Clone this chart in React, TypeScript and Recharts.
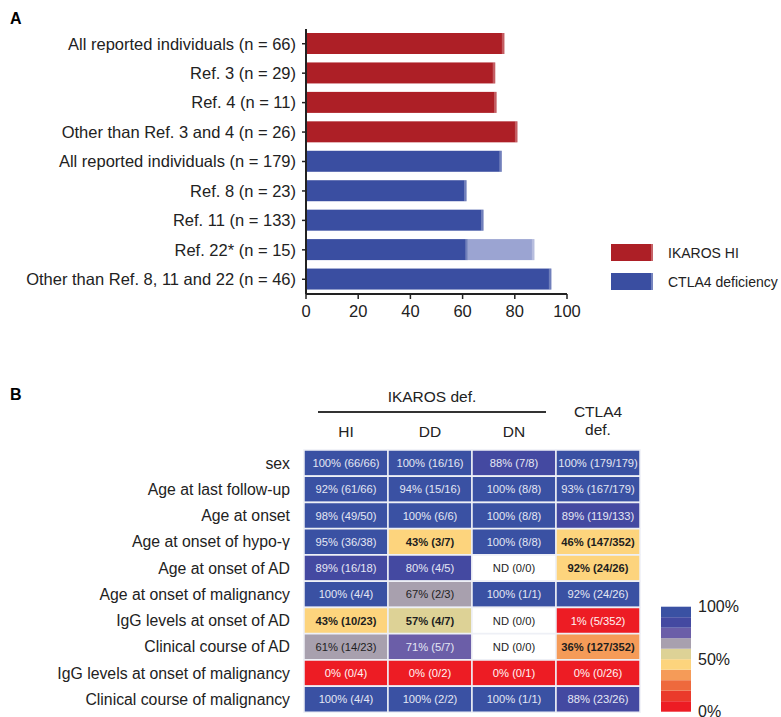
import React from 'react'
import { BarChart, Bar, XAxis, YAxis, Cell } from 'recharts'

const FONT = '"Liberation Sans", Arial, Helvetica, sans-serif'

// ---- panel A: share of individuals per cohort (%)
const cohortLabels = [
  'All reported individuals (n = 66)',
  'Ref. 3 (n = 29)',
  'Ref. 4 (n = 11)',
  'Other than Ref. 3 and 4 (n = 26)',
  'All reported individuals (n = 179)',
  'Ref. 8 (n = 23)',
  'Ref. 11 (n = 133)',
  'Ref. 22* (n = 15)',
  'Other than Ref. 8, 11 and 22 (n = 46)',
]
const cohortGroup = [
  'IKAROS HI', 'IKAROS HI', 'IKAROS HI', 'IKAROS HI',
  'CTLA4 deficiency', 'CTLA4 deficiency', 'CTLA4 deficiency', 'CTLA4 deficiency', 'CTLA4 deficiency',
]
const cohortPct = [76, 72.5, 73, 81, 75, 61.5, 68, 62, 94]
const cohortExtraPct = [0, 0, 0, 0, 0, 0, 0, 25.5, 0]
const xTicksA = [0, 20, 40, 60, 80, 100]

// ---- panel B: heatmap
const featureLabels = [
  'sex',
  'Age at last follow-up',
  'Age at onset',
  'Age at onset of hypo-γ',
  'Age at onset of AD',
  'Age at onset of malignancy',
  'IgG levels at onset of AD',
  'Clinical course of AD',
  'IgG levels at onset of malignancy',
  'Clinical course of malignancy',
]
const heatGroups = ['HI', 'DD', 'DN', 'CTLA4 def.']
const hiPct = [100, 92, 98, 95, 89, 100, 43, 61, 0, 100]
const hiFrac = ['66/66', '61/66', '49/50', '36/38', '16/18', '4/4', '10/23', '14/23', '0/4', '4/4']
const ddPct = [100, 94, 100, 43, 80, 67, 57, 71, 0, 100]
const ddFrac = ['16/16', '15/16', '6/6', '3/7', '4/5', '2/3', '4/7', '5/7', '0/2', '2/2']
const dnPct = [88, 100, 100, 100, null, 100, null, null, 0, 100]
const dnFrac = ['7/8', '8/8', '8/8', '8/8', '0/0', '1/1', '0/0', '0/0', '0/1', '1/1']
const ctlaPct = [100, 93, 89, 46, 92, 92, 1, 36, 0, 88]
const ctlaFrac = ['179/179', '167/179', '119/133', '147/352', '24/26', '24/26', '5/352', '127/352', '0/26', '23/26']
// cell drawn with a different shade than its value in the original
const shadeOverrides = [{ row: 4, col: 3, level: 4 }]

// colour scale, level 0 (0-10%) .. level 9 (90-100%)
const shadeColours = [
  '#ed1c24', '#ea3a2b', '#ee693d', '#f59b58', '#fdd47d',
  '#ddd296', '#a8a0ae', '#6b5ea8', '#4449a1', '#3a51a3',
]
const scaleTicks = [0, 50, 100]

const barColours: Record<string, string> = {
  'IKAROS HI': '#ad1f26',
  'CTLA4 deficiency': '#3a4ea1',
}
const extraColour = '#9ba4d2'

const cohortData = cohortLabels.map((label, i) => ({
  label,
  group: cohortGroup[i],
  pct: cohortPct[i],
  extra: cohortExtraPct[i],
}))

const allPct = [hiPct, ddPct, dnPct, ctlaPct]
const allFrac = [hiFrac, ddFrac, dnFrac, ctlaFrac]

const levelOf = (pct: number | null) => (pct === null ? -1 : Math.min(9, Math.floor(pct / 10)))

const heatData = featureLabels.map((feature, r) => {
  const row: Record<string, any> = { feature }
  heatGroups.forEach((_, c) => {
    const pct = allPct[c][r]
    const ov = shadeOverrides.find((o) => o.row === r && o.col === c)
    row['c' + c] = 1
    row['lvl' + c] = ov ? ov.level : levelOf(pct)
    row['txt' + c] = pct === null ? `ND (${allFrac[c][r]})` : `${pct}% (${allFrac[c][r]})`
  })
  return row
})

const scaleData = [
  shadeColours.reduce((acc: Record<string, number>, _, i) => {
    acc['s' + i] = 10
    return acc
  }, {}),
]

function CappedBar(props: any) {
  const { x, y, width, height, fill } = props
  if (!width || width <= 0) return null
  return (
    <g>
      <rect x={x} y={y} width={width} height={height} fill={fill} />
      <rect x={x + width - 2.5} y={y} width={2.5} height={height} fill="#ffffff" fillOpacity={0.28} />
    </g>
  )
}

const heatCell = (c: number) => (props: any) => {
  const { x, y, width, height, payload } = props
  const lvl = payload['lvl' + c]
  const fill = lvl < 0 ? '#ffffff' : shadeColours[lvl]
  const dark = lvl < 0 || (lvl >= 3 && lvl <= 6)
  const bold = lvl >= 3 && lvl <= 5
  const colour = dark ? '#1e1e1e' : lvl <= 2 ? '#fff4f4' : '#e4e7f4'
  return (
    <g>
      <rect x={x} y={y} width={width} height={height} fill={fill} stroke="#eef0f6" strokeWidth={1.5} />
      <text
        x={x + width / 2}
        y={y + height / 2}
        textAnchor="middle"
        dominantBaseline="central"
        fontSize={11.2}
        fontWeight={bold ? 600 : 400}
        fill={colour}
        fontFamily={FONT}
      >
        {payload['txt' + c]}
      </text>
    </g>
  )
}

function GroupTick(props: any) {
  const { x, y, payload } = props
  const idx = Math.floor(payload.value)
  if (idx === 3) {
    return (
      <g>
        <text x={x} y={y - 33} textAnchor="middle" fontSize={15.5} fill="#222" fontFamily={FONT}>CTLA4</text>
        <text x={x} y={y - 15} textAnchor="middle" fontSize={15.5} fill="#222" fontFamily={FONT}>def.</text>
      </g>
    )
  }
  return (
    <text x={x} y={y - 13} textAnchor="middle" fontSize={15.5} fill="#222" fontFamily={FONT}>
      {heatGroups[idx]}
    </text>
  )
}

export default function App() {
  return (
    <div style={{ position: 'absolute', left: 0, top: 0, width: 781, height: 717, overflow: 'hidden', background: '#fff', fontFamily: FONT }}>
      <div style={{ position: 'absolute', left: 10, top: 10, fontWeight: 700, fontSize: 16 }}>A</div>
      <div style={{ position: 'absolute', left: 10, top: 386, fontWeight: 700, fontSize: 16 }}>B</div>

      <div style={{ position: 'absolute', left: 0, top: 0 }}>
        <BarChart
          layout="vertical"
          width={781}
          height={330}
          data={cohortData}
          margin={{ top: 29, right: 214, bottom: 6, left: 0 }}
          barSize={21}
        >
          <XAxis
            type="number"
            domain={[0, 100]}
            ticks={xTicksA}
            height={30}
            tickSize={5}
            tickMargin={6}
            tick={{ fontSize: 16.5, fill: '#222', fontFamily: FONT }}
            axisLine={{ stroke: '#222', strokeWidth: 2 }}
            tickLine={{ stroke: '#222', strokeWidth: 1.5 }}
          />
          <YAxis
            type="category"
            dataKey="label"
            width={306}
            interval={0}
            tickSize={4}
            tickMargin={6}
            tick={{ fontSize: 16.5, fill: '#222', fontFamily: FONT }}
            axisLine={{ stroke: '#222', strokeWidth: 2 }}
            tickLine={{ stroke: '#222', strokeWidth: 1.5 }}
          />
          <Bar dataKey="pct" stackId="a" isAnimationActive={false} shape={CappedBar}>
            {cohortData.map((d, i) => (
              <Cell key={i} fill={barColours[d.group]} />
            ))}
          </Bar>
          <Bar dataKey="extra" stackId="a" isAnimationActive={false} fill={extraColour} shape={CappedBar} />
        </BarChart>
      </div>

      <div style={{ position: 'absolute', left: 611, top: 244, fontSize: 14, color: '#222' }}>
        {Object.keys(barColours).map((g) => (
          <div key={g} style={{ display: 'flex', alignItems: 'center', height: 17, marginBottom: 12 }}>
            <div style={{ width: 42, height: 17, background: barColours[g], borderRight: '2px solid rgba(255,255,255,0.3)', boxSizing: 'border-box' }} />
            <span style={{ marginLeft: 15, whiteSpace: 'nowrap' }}>{g}</span>
          </div>
        ))}
      </div>

      <div style={{ position: 'absolute', left: 318, top: 388, width: 228, textAlign: 'center', fontSize: 15.5, color: '#222', lineHeight: '18px' }}>
        IKAROS def.
      </div>
      <div style={{ position: 'absolute', left: 318, top: 411, width: 228, height: 1.5, background: '#333' }} />

      <div style={{ position: 'absolute', left: 0, top: 370 }}>
        <BarChart
          layout="vertical"
          width={781}
          height={347}
          data={heatData}
          margin={{ top: 20, right: 141, bottom: 4.5, left: 0 }}
          barCategoryGap={0}
        >
          <XAxis
            type="number"
            orientation="top"
            domain={[0, 4]}
            ticks={[0.5, 1.5, 2.5, 3.5]}
            height={60}
            axisLine={false}
            tickLine={false}
            tickSize={0}
            tickMargin={0}
            tick={GroupTick}
          />
          <YAxis
            type="category"
            dataKey="feature"
            width={304}
            interval={0}
            axisLine={false}
            tickLine={false}
            tickSize={6}
            tickMargin={8}
            tick={{ fontSize: 15.8, fill: '#222', fontFamily: FONT }}
          />
          {heatGroups.map((g, c) => (
            <Bar key={g} dataKey={'c' + c} stackId="h" isAnimationActive={false} shape={heatCell(c)} />
          ))}
        </BarChart>
      </div>

      <div style={{ position: 'absolute', left: 655, top: 590 }}>
        <BarChart
          width={110}
          height={127}
          data={scaleData}
          margin={{ top: 16.7, right: 0, bottom: 5.3, left: 6 }}
          barCategoryGap={0}
        >
          <XAxis hide />
          <YAxis
            orientation="right"
            domain={[0, 100]}
            ticks={scaleTicks}
            interval={0}
            width={74}
            axisLine={false}
            tickLine={false}
            tickSize={2}
            tickMargin={5}
            tickFormatter={(v: number) => v + '%'}
            tick={{ fontSize: 16, fill: '#222', fontFamily: FONT }}
          />
          {shadeColours.map((col, i) => (
            <Bar key={i} dataKey={'s' + i} stackId="s" fill={col} isAnimationActive={false} />
          ))}
        </BarChart>
      </div>
    </div>
  )
}
